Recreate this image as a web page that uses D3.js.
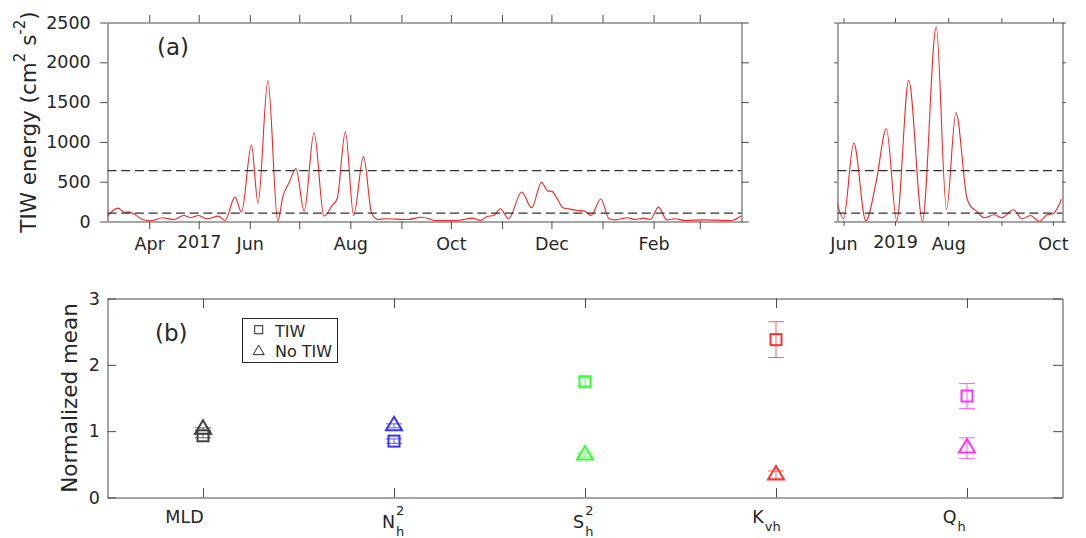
<!DOCTYPE html>
<html>
<head>
<meta charset="utf-8">
<script src="https://cdn.jsdelivr.net/npm/d3@7"></script>
<style>
  body { margin: 0; background: #fff; }
  svg { display: block; }
  text { font-family: "DejaVu Sans", sans-serif; fill: #262626; }
</style>
</head>
<body>
<svg id="chart" width="1086" height="538"></svg>
<script>
// ---------- data: TIW kinetic energy, 2017-18 deployment ----------
const dates2017 = [
  "2017-03-06","2017-03-13","2017-03-17","2017-03-20","2017-03-28","2017-04-02","2017-04-09",
  "2017-04-16","2017-04-22","2017-04-26","2017-05-01","2017-05-06","2017-05-13","2017-05-17",
  "2017-05-23","2017-05-27","2017-06-02","2017-06-06","2017-06-12","2017-06-18","2017-06-21",
  "2017-06-25","2017-06-29","2017-07-04","2017-07-10","2017-07-16","2017-07-21","2017-07-24",
  "2017-07-29","2017-08-03","2017-08-09","2017-08-14","2017-08-18","2017-08-22","2017-09-05",
  "2017-09-13","2017-09-18","2017-09-21","2017-10-05","2017-10-14","2017-10-19","2017-10-23",
  "2017-10-27","2017-10-31","2017-11-05","2017-11-13","2017-11-19","2017-11-25","2017-11-29",
  "2017-12-01","2017-12-04","2017-12-08","2017-12-11","2017-12-17","2017-12-21","2017-12-25",
  "2017-12-31","2018-01-05","2018-01-09","2018-01-16","2018-01-21","2018-01-26","2018-01-30",
  "2018-02-04","2018-02-09","2018-02-14","2018-02-20","2018-03-04","2018-03-20","2018-03-26"
];
const energy2017 = [
  50, 168, 117, 118, 25, 10, 47,
  25, 76, 50, 75, 34, 67, 13,
  306, 117, 960, 230, 1770, 5, 306,
  496, 664, 130, 1118, 67, 202, 286,
  1126, 76, 815, 97, 25, 34, 25,
  54, 34, 13, 13, 42, 13, 63,
  76, 160, 34, 370, 172, 492, 382,
  382, 307, 172, 160, 139, 130, 76,
  282, 34, 21, 47, 25, 42, 25,
  180, 21, 34, 13, 21, 13, 70
];

// ---------- data: TIW kinetic energy, 2019 deployment ----------
const dates2019 = [
  "2019-05-28","2019-06-01","2019-06-07","2019-06-14","2019-06-20","2019-06-26","2019-07-02",
  "2019-07-09","2019-07-17","2019-07-25","2019-07-31","2019-08-05T12:00Z","2019-08-12","2019-08-14",
  "2019-08-17","2019-08-22","2019-08-28","2019-09-01","2019-09-08","2019-09-13","2019-09-18",
  "2019-09-23","2019-09-28","2019-10-01","2019-10-06"
];
const energy2019 = [
  260, 35, 985, 10, 496, 1165, 10,
  1770, 10, 2445, 150, 1370, 286, 193,
  139, 47, 84, 47, 147, 34, 76,
  4, 88, 97, 280
];

// energy thresholds (dashed lines)
const thresholds = [105, 640];

// axis ticks for panel (a)
const energyTicks = [0, 500, 1000, 1500, 2000, 2500];
const monthTicks2017 = ["2017-04-01","2017-05-01","2017-06-01","2017-07-01","2017-08-01","2017-09-01",
                        "2017-10-01","2017-11-01","2017-12-01","2018-01-01","2018-02-01","2018-03-01"];
const monthLabels2017 = ["Apr","2017","Jun","","Aug","","Oct","","Dec","","Feb",""];
const monthTicks2019 = ["2019-06-01","2019-07-01","2019-08-01","2019-09-01","2019-10-01"];
const monthLabels2019 = ["Jun","2019","Aug","","Oct"];
const domain2017 = ["2017-03-06T16:00Z", "2018-03-26T08:00Z"];
const domain2019 = ["2019-05-28T12:00Z", "2019-10-06T14:00Z"];

// ---------- data: panel (b) normalized means ----------
const varNames = ["MLD", "N", "S", "K", "Q"];
const varSup   = ["", "2", "2", "", ""];
const varSub   = ["", "h", "h", "vh", "h"];
const meanTIW    = [0.93, 0.85, 1.745, 2.38, 1.53];
const errTIW     = [0.03, 0.033, 0.06, 0.27, 0.19];
const meanNoTIW  = [1.03, 1.08, 0.64, 0.34, 0.745];
const errNoTIW   = [0.02, 0.03, 0.03, 0.06, 0.155];
const normTicks  = [0, 1, 2, 3];
const legendLabels = ["TIW", "No TIW"];

// ---------- styles ----------
const varColors  = ["#404040", "#3333ff", "#33ff33", "#ff3333", "#ff33ff"];
const labelShift = [-18, -0.8, -1.7, -9.5, -12.7];   // horizontal nudges of the category labels
const AXIS = "#4a4a4a";
const FONT_TICK = 17.5;

const svg = d3.select("#chart");

function styleAxis(g) {
  g.select(".domain").attr("stroke", AXIS).attr("stroke-width", 1);
  g.selectAll(".tick line").attr("stroke", AXIS).attr("stroke-width", 1);
  g.selectAll(".tick text").attr("font-size", FONT_TICK).attr("fill", "#262626")
    .attr("font-family", "DejaVu Sans");
}

// ---------- panel (a) ----------
const aTop = 22.5, aBot = 221.5;
const yE = d3.scaleLinear().domain([0, 2500]).range([aBot, aTop]);

function energyPanel(dates, values, domain, x0, x1, tickDates, tickLabels, showY, xTick, yTick) {
  const x = d3.scaleUtc().domain(domain.map(d3.isoParse)).range([x0, x1]);
  const g = svg.append("g");
  const clipId = "clip" + Math.round(x0);
  svg.append("clipPath").attr("id", clipId).append("rect")
    .attr("x", x0).attr("y", aTop).attr("width", x1 - x0).attr("height", aBot - aTop);

  const pts = dates.map((d, i) => [d3.isoParse(d), values[i]]);
  g.append("path").datum(pts)
    .attr("clip-path", `url(#${clipId})`)
    .attr("fill", "none").attr("stroke", "#ff2020").attr("stroke-width", 1.1)
    .attr("d", d3.line().x(d => x(d[0])).y(d => yE(d[1])).curve(d3.curveMonotoneX));

  g.selectAll("line.thr").data(thresholds).join("line")
    .attr("class", "thr")
    .attr("x1", x0).attr("x2", x1)
    .attr("y1", d => yE(d)).attr("y2", d => yE(d))
    .attr("stroke", "#303030").attr("stroke-width", 1.3).attr("stroke-dasharray", "9,4.7");

  const ticks = tickDates.map(d3.isoParse);
  const bottom = g.append("g").attr("transform", `translate(0,${aBot})`)
    .call(d3.axisBottom(x).tickValues(ticks).tickSize(xTick).tickSizeOuter(0)
      .tickFormat((d, i) => tickLabels[i]));
  styleAxis(bottom);
  bottom.selectAll(".tick text").attr("dy", null).attr("y", 28.5)
    .filter(function() { return /^\d{4}$/.test(this.textContent); })
    .attr("y", 26).attr("fill", "#000");

  const top = g.append("g").attr("transform", `translate(0,${aTop})`)
    .call(d3.axisTop(x).tickValues(ticks).tickSize(xTick).tickSizeOuter(0).tickFormat(""));
  styleAxis(top);

  const left = g.append("g").attr("transform", `translate(${x0},0)`)
    .call(d3.axisLeft(yE).tickValues(energyTicks).tickSize(yTick).tickSizeOuter(0)
      .tickPadding(9.5).tickFormat(showY ? d3.format("d") : ""));
  styleAxis(left);

  const right = g.append("g").attr("transform", `translate(${x1},0)`)
    .call(d3.axisRight(yE).tickValues(energyTicks).tickSize(yTick).tickSizeOuter(0).tickFormat(""));
  styleAxis(right);
}

energyPanel(dates2017, energy2017, domain2017, 107.5, 741.5, monthTicks2017, monthLabels2017, true, 7.5, 7.3);
energyPanel(dates2019, energy2019, domain2019, 837.5, 1062.5, monthTicks2019, monthLabels2019, false, 4.3, 3.3);

// y label of panel (a)
const yLabA = svg.append("text")
  .attr("transform", "translate(35.5,122) rotate(-90)")
  .attr("text-anchor", "middle").attr("font-size", 21.5);
yLabA.append("tspan").text("TIW energy (cm");
yLabA.append("tspan").attr("font-size", 15).attr("dy", -10.5).text("2");
yLabA.append("tspan").attr("dy", 10.5).text(" s");
yLabA.append("tspan").attr("font-size", 15).attr("dy", -10.5).text("-2");
yLabA.append("tspan").attr("dy", 10.5).text(")");

svg.append("text").attr("x", 157).attr("y", 55).attr("font-size", 23).text("(a)");

// ---------- panel (b) ----------
const bL = 107.5, bR = 1062.5, bT = 298.5, bB = 497.5;
const xb = d3.scaleLinear().domain([0.5, varNames.length + 0.5]).range([bL, bR]);
const yb = d3.scaleLinear().domain([0, 3]).range([bB, bT]);
const catPos = varNames.map((d, i) => i + 1);

const gb = svg.append("g");
const bBottom = gb.append("g").attr("transform", `translate(0,${bB})`)
  .call(d3.axisBottom(xb).tickValues(catPos).tickSize(-9.5).tickSizeOuter(0).tickFormat(""));
styleAxis(bBottom);
const bTop = gb.append("g").attr("transform", `translate(0,${bT})`)
  .call(d3.axisTop(xb).tickValues(catPos).tickSize(-9.5).tickSizeOuter(0).tickFormat(""));
styleAxis(bTop);
const bLeft = gb.append("g").attr("transform", `translate(${bL},0)`)
  .call(d3.axisLeft(yb).tickValues(normTicks).tickSize(-8.5).tickSizeOuter(0).tickPadding(7.5)
    .tickFormat(d3.format("d")));
styleAxis(bLeft);
const bRight = gb.append("g").attr("transform", `translate(${bR},0)`)
  .call(d3.axisRight(yb).tickValues(normTicks).tickSize(-9.5).tickSizeOuter(0).tickFormat(""));
styleAxis(bRight);

// category labels with TeX-like super/subscripts
varNames.forEach((name, i) => {
  const hasSup = varSup[i] !== "";
  const base = hasSup ? 528 : 523;
  const t = gb.append("text").attr("font-size", FONT_TICK).attr("y", base).text(name);
  const mainW = t.node().getComputedTextLength();
  let extraW = 0;
  const pieces = [];
  if (varSup[i]) pieces.push(gb.append("text").attr("font-size", 13).attr("y", base - 13).text(varSup[i]));
  if (varSub[i]) pieces.push(gb.append("text").attr("font-size", 13).attr("y", base + 7.5).text(varSub[i]));
  pieces.forEach(p => { extraW = Math.max(extraW, p.node().getComputedTextLength()); });
  const start = xb(i + 1) + labelShift[i] - (mainW + extraW + 1) / 2;
  t.attr("x", start);
  pieces.forEach(p => p.attr("x", start + mainW + 1));
});

// marker shapes
const SQ = 11, TW = 16, TH = 13.5;
function triPath(cx, cy, w, h) {
  // centroid at (cx, cy)
  return `M${cx},${cy - 2 * h / 3}L${cx + w / 2},${cy + h / 3}L${cx - w / 2},${cy + h / 3}Z`;
}
function errBar(g, cx, m, e, color) {
  const cap = 8;
  const lines = [[cx, yb(m - e), cx, yb(m + e)], [cx - cap, yb(m + e), cx + cap, yb(m + e)],
                 [cx - cap, yb(m - e), cx + cap, yb(m - e)]];
  g.selectAll(null).data(lines).join("line")
    .attr("x1", d => d[0]).attr("y1", d => d[1]).attr("x2", d => d[2]).attr("y2", d => d[3])
    .attr("stroke", color).attr("stroke-width", 1).attr("opacity", 0.8);
}

const marks = gb.append("g");
varNames.forEach((name, i) => {
  const cx = xb(i + 1), c = varColors[i];
  errBar(marks, cx, meanNoTIW[i], errNoTIW[i], c);
  marks.append("path").attr("d", triPath(cx, yb(meanNoTIW[i]), TW, TH))
    .attr("fill", "none").attr("stroke", c).attr("stroke-width", 2);
  errBar(marks, cx, meanTIW[i], errTIW[i], c);
  marks.append("rect").attr("x", cx - SQ / 2).attr("y", yb(meanTIW[i]) - SQ / 2)
    .attr("width", SQ).attr("height", SQ)
    .attr("fill", "none").attr("stroke", c).attr("stroke-width", 2);
});

// legend
const lg = gb.append("g");
lg.append("rect").attr("x", 242.5).attr("y", 318.5).attr("width", 95).attr("height", 44)
  .attr("fill", "#fff").attr("stroke", "#262626").attr("stroke-width", 1);
lg.append("rect").attr("x", 254.7).attr("y", 325.7).attr("width", 8).attr("height", 8)
  .attr("fill", "none").attr("stroke", "#262626").attr("stroke-width", 1);
lg.append("path").attr("d", triPath(258.7, 351.5, 11, 9.5))
  .attr("fill", "none").attr("stroke", "#262626").attr("stroke-width", 1);
lg.selectAll("text.lab").data(legendLabels).join("text")
  .attr("class", "lab").attr("x", 275).attr("y", (d, i) => 336.5 + i * 20)
  .attr("font-size", 16).text(d => d);

svg.append("text").attr("x", 155).attr("y", 340.5).attr("font-size", 23).text("(b)");

svg.append("text")
  .attr("transform", "translate(77,398) rotate(-90)")
  .attr("text-anchor", "middle").attr("font-size", 21.5).text("Normalized mean");
</script>
</body>
</html>
